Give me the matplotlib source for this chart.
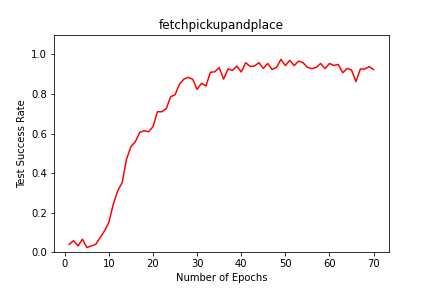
import matplotlib
matplotlib.use("Agg")
import matplotlib.pyplot as plt

epochs = list(range(1, 71))
success_rate = [
    0.040, 0.059, 0.032, 0.066, 0.024, 0.032, 0.040, 0.074, 0.108, 0.152,
    0.244, 0.311, 0.352, 0.471, 0.534, 0.559, 0.606, 0.614, 0.609, 0.635,
    0.710, 0.710, 0.726, 0.786, 0.796, 0.850, 0.875, 0.884, 0.874, 0.823,
    0.854, 0.840, 0.909, 0.912, 0.933, 0.875, 0.926, 0.919, 0.941, 0.911,
    0.958, 0.939, 0.941, 0.958, 0.929, 0.954, 0.923, 0.934, 0.975, 0.943,
    0.970, 0.943, 0.966, 0.958, 0.934, 0.928, 0.934, 0.954, 0.928, 0.954,
    0.944, 0.949, 0.907, 0.929, 0.921, 0.862, 0.926, 0.926, 0.938, 0.923,
]

fig = plt.figure(figsize=(6, 4), dpi=72)
ax = fig.add_subplot(111)
fig.subplots_adjust(left=0.125, right=0.9, top=0.88, bottom=0.124)
ax.plot(epochs, success_rate, color="red", linewidth=1.5)
ax.set_ylim(0, 1.1)
ax.set_title("fetchpickupandplace")
ax.set_xlabel("Number of Epochs")
ax.set_ylabel("Test Success Rate")
fig.savefig("out.png", dpi=72)
